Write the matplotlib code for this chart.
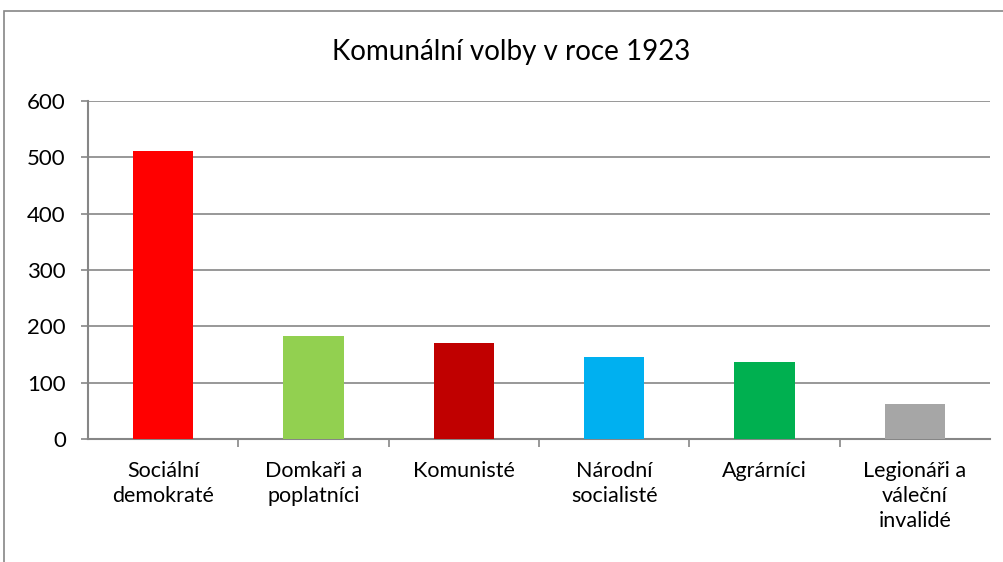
import matplotlib
matplotlib.use("Agg")
import matplotlib.pyplot as plt
from matplotlib.patches import Rectangle

# data
parties = ["Sociální\ndemokraté", "Domkaři a\npoplatníci", "Komunisté",
           "Národní\nsocialisté", "Agrárníci", "Legionáři a\nváleční\ninvalidé"]
seats = [512, 183, 171, 146, 137, 62]
colors = ["#ff0000", "#92d050", "#c00000", "#00b0f0", "#00b050", "#a6a6a6"]
yticks = [0, 100, 200, 300, 400, 500, 600]

plt.rcParams['font.family'] = ['Lato', 'DejaVu Sans']
grey = "#868686"

fig = plt.figure(figsize=(10.04, 5.62), dpi=100)
# outer chart frame (cropped at right/bottom like the screenshot)
fig.patches.append(Rectangle((0.004, -0.1), 1.2, 1.1 - 11 / 562, transform=fig.transFigure,
                             fill=False, edgecolor=grey, linewidth=1.2))

ax = fig.add_axes([88 / 1004, 1 - 439 / 562, 902 / 1004, 338 / 562])
x = list(range(len(parties)))
ax.bar(x, seats, width=0.4, color=colors, zorder=3)

ax.set_xlim(-0.5, len(parties) - 0.5)
ax.set_ylim(0, 600)
ax.set_yticks(yticks)
ax.yaxis.grid(True, color=grey, linewidth=1.2, zorder=0)

for s in ["top", "right"]:
    ax.spines[s].set_visible(False)
for s in ["left", "bottom"]:
    ax.spines[s].set_color(grey)
    ax.spines[s].set_linewidth(1.5)

ax.tick_params(axis="y", length=5, width=1.2, color=grey, pad=11, labelsize=16)
# category labels centred, tick marks at category boundaries
ax.set_xticks(x)
ax.set_xticklabels(parties, fontsize=15.5, linespacing=1.3)
ax.tick_params(axis="x", length=0, pad=16)
ax.set_xticks([i + 0.5 for i in x[:-1]], minor=True)
ax.tick_params(axis="x", which="minor", length=6, width=1.2, color=grey)

# title is centred on the whole chart area, not on the plot
fig.text(511 / 1004, 1 - 52 / 562, "Komunální volby v roce 1923", fontsize=20,
         ha="center", va="center")

fig.savefig("out.png", dpi=100)
